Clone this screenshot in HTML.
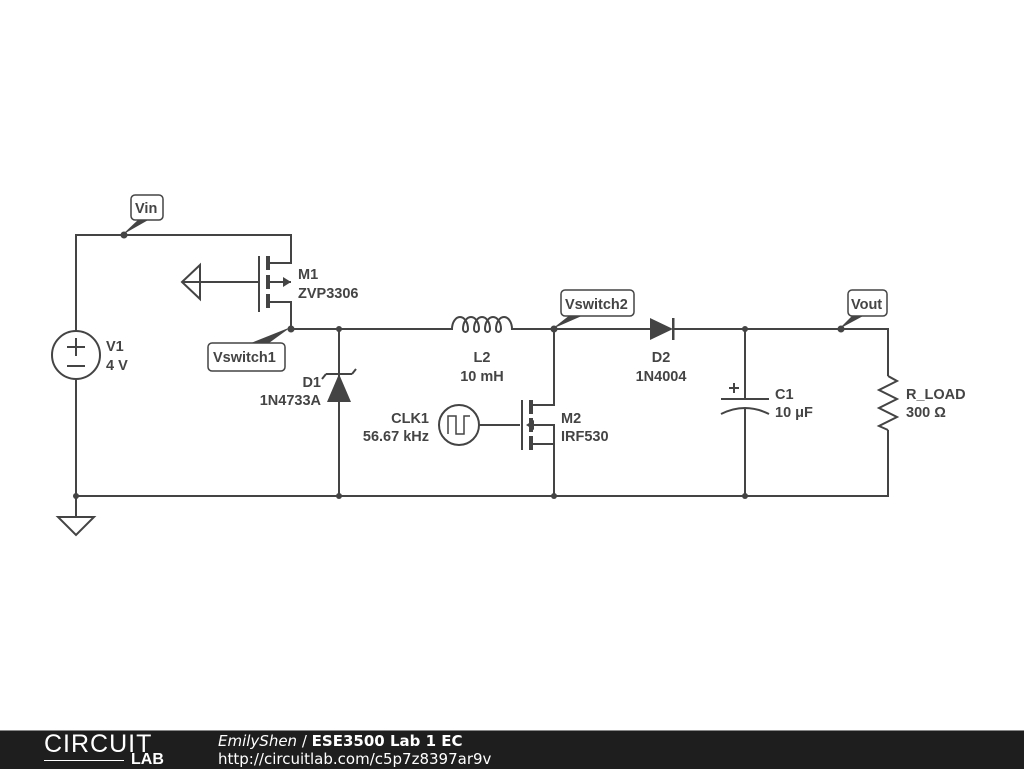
<!DOCTYPE html>
<html><head><meta charset="utf-8"><style>
body{margin:0;width:1024px;height:768px;background:#fff;overflow:hidden;font-family:"Liberation Sans",sans-serif}
svg text{font-family:"Liberation Sans",sans-serif;font-weight:bold;font-size:14.5px;fill:#444}
.f{position:absolute;left:0;top:730px;width:1024px;height:38px;background:#1e1e1e;border-top:1px solid #888}
</style></head><body>
<svg width="1024" height="730" style="position:absolute;left:0;top:0">
<g stroke="#444" stroke-width="2" fill="none">
<path d="M76 331V235H291V263H267M267 302H291V329H450M515 329H650M673 329H888V376M888 430V496H76V379"/>
<path d="M888 376l9 5-18 9 18 9-18 9 18 9-18 9 9 4"/>
<path d="M450 329H452A8 12 0 0 1 468 329A2.5 3 0 0 1 463 329A8 12 0 0 1 479 329A2.5 3 0 0 1 474 329A8 12 0 0 1 490 329A2.5 3 0 0 1 485 329A8 12 0 0 1 501 329A2.5 3 0 0 1 496 329A8 12 0 0 1 512 329H515"/>
<circle cx="76" cy="355" r="24"/>
<path d="M67 347h18M76 338v18M67 366h18"/>
<path d="M76 496v20M58 517h36L76 535z"/>
<path d="M339 329v167M554 329v76H530M530 444H554V496M745 329V399M745 408V496M721 399h48M721 414q24-12 48 0M729 388h10M734 383v10"/>
<path d="M182 282h77M182 282l18-17v34z"/>
<path d="M259 256v56M267 263h24M267 282H291"/>
<path d="M522 400v50M479 425h41M530 425h24V444"/>
<circle cx="459" cy="425" r="20"/>
<path d="M448 434v-18h8v18h8v-18h6" stroke-width="1.5"/>
<path d="M326 374h26M326 374l-4 5M352 374l4-5"/>
</g>
<g fill="#444">
<rect x="266" y="256" width="4" height="14"/><rect x="266" y="275" width="4" height="14"/><rect x="266" y="294" width="4" height="14"/>
<rect x="529" y="400" width="4" height="14"/><rect x="529" y="418" width="4" height="14"/><rect x="529" y="436" width="4" height="14"/>
<path d="M283 277l8 5-8 5z"/><path d="M534 420l-8 5 8 5z"/>
<path d="M339 374l12 28h-24z"/>
<path d="M650 318l23 11-23 11z"/><rect x="672" y="318" width="2.5" height="22"/>
<circle cx="291" cy="329" r="3.5"/><circle cx="339" cy="329" r="3"/><circle cx="339" cy="496" r="3"/><circle cx="76" cy="496" r="3"/><circle cx="554" cy="496" r="3"/><circle cx="745" cy="329" r="3"/><circle cx="745" cy="496" r="3"/><circle cx="124" cy="235" r="3.5"/><circle cx="554" cy="329" r="3.5"/><circle cx="841" cy="329" r="3.5"/>
<path d="M122 235l17-16h11z"/><path d="M291 327l-40 16h18z"/><path d="M552 329l18-14h14z"/><path d="M839 329l14-14h12z"/>
</g>
<g fill="#fff" stroke="#444" stroke-width="1.5">
<rect x="131" y="195" width="32" height="25" rx="4"/>
<rect x="208" y="343" width="77" height="28" rx="4"/>
<rect x="561" y="290" width="73" height="26" rx="4"/>
<rect x="848" y="290" width="39" height="26" rx="4"/>
</g>
<text x="135" y="213">Vin</text><text x="213" y="362">Vswitch1</text><text x="565" y="309">Vswitch2</text><text x="851" y="309">Vout</text>
<text x="106" y="351">V1</text><text x="106" y="370">4 V</text>
<text x="298" y="279">M1</text><text x="298" y="298">ZVP3306</text>
<text x="321" y="387" text-anchor="end">D1</text><text x="321" y="405" text-anchor="end">1N4733A</text>
<text x="482" y="362" text-anchor="middle">L2</text><text x="482" y="381" text-anchor="middle">10 mH</text>
<text x="661" y="362" text-anchor="middle">D2</text><text x="661" y="381" text-anchor="middle">1N4004</text>
<text x="429" y="423" text-anchor="end">CLK1</text><text x="429" y="441" text-anchor="end">56.67 kHz</text>
<text x="561" y="423">M2</text><text x="561" y="441">IRF530</text>
<text x="775" y="399">C1</text><text x="775" y="417">10 μF</text>
<text x="906" y="399">R_LOAD</text><text x="906" y="417">300 Ω</text>
</svg>
<div class="f">
<div style="position:absolute;left:44px;top:1px;color:#fff;font-size:25px;letter-spacing:1px;line-height:25px">CIRCUIT</div>
<div style="position:absolute;left:44px;top:29px;width:80px;border-top:1px solid #fff"></div>
<div style="position:absolute;left:131px;top:21px;color:#fff;font-size:16px;font-weight:bold;line-height:16px">LAB</div>
<div style="position:absolute;left:218px;top:1px;color:#fff;font-family:'DejaVu Sans',sans-serif;font-size:15px;line-height:18px"><i>EmilyShen</i> / <b>ESE3500 Lab 1 EC</b><br>http://circuitlab.com/c5p7z8397ar9v</div>
</div>
</body></html>
